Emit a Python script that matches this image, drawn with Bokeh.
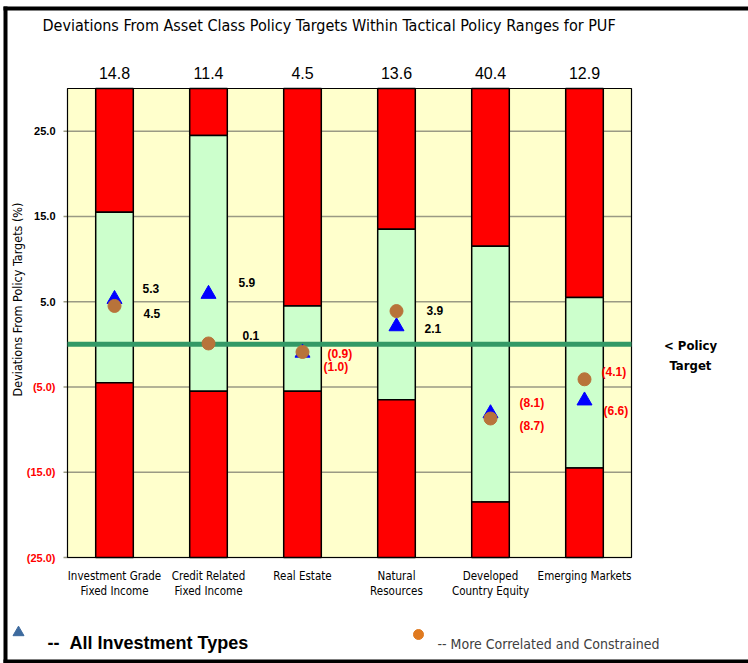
from bokeh.plotting import figure
from bokeh.models import Range1d
from bokeh.core.properties import value
from bokeh.embed import file_html
from bokeh.resources import INLINE

# ---------------- data ----------------
categories = ["Investment Grade\nFixed Income", "Credit Related\nFixed Income", "Real Estate",
              "Natural\nResources", "Developed\nCountry Equity", "Emerging Markets"]
header_values = [14.8, 11.4, 4.5, 13.6, 40.4, 12.9]
range_low = [-4.5, -5.5, -5.5, -6.5, -18.5, -14.5]
range_high = [15.5, 24.5, 4.5, 13.5, 11.5, 5.5]
all_types = [5.3, 5.9, -1.0, 2.1, -8.1, -6.6]
correlated = [4.5, 0.1, -0.9, 3.9, -8.7, -4.1]
y_ticks = [25, 15, 5, -5, -15, -25]
y_min, y_max = -25, 30
policy_target = 0
title = "Deviations From Asset Class Policy Targets Within Tactical Policy Ranges for PUF"
y_title = "Deviations From Policy Targets (%)"
legend_dash = "--"
legend_all = "All Investment Types"
legend_corr = "-- More Correlated and Constrained"
policy_label = ["< Policy", "Target"]

# ---------------- layout (pixels) ----------------
W, H = 748, 663
F_LEFT, F_RIGHT, F_TOP, F_BOTTOM = 67, 631, 88, 557   # plot area inside the canvas
tri_dx = [28, 30, 21, 28, 29, 19]
tri_dy = [-11, -12, 14, 2, -10, 10]
cir_dx = [29, 34, 25, 30, 29, 17]
cir_dy = [8, -8, 2, -1, 7, -7]

NARROW = "DejaVu Sans Condensed"
SANS = "Liberation Sans"
RED = "#FF0000"
GRID = "#9a9a84"

n = len(categories)
xs = [i + 0.5 for i in range(n)]
xscale = (F_RIGHT - F_LEFT) / n
yscale = (F_BOTTOM - F_TOP) / (y_max - y_min)


def X(px):  # canvas pixel -> data x
    return (px - F_LEFT) / xscale


def Y(py):  # canvas pixel -> data y
    return y_max - (py - F_TOP) / yscale


def fmt(v):
    return f"{v:.1f}" if v >= 0 else f"({abs(v):.1f})"


def col(v):
    return "black" if v >= 0 else RED


p = figure(width=W, height=H, title=None,
           x_range=Range1d(X(0), X(W)), y_range=Range1d(Y(H), Y(0)),
           output_backend="svg", toolbar_location=None,
           x_axis_location=None, y_axis_location=None,
           min_border=0)
p.grid.visible = False
p.outline_line_color = None
p.background_fill_color = "white"
p.border_fill_color = "white"

# plot area background
p.quad(left=[0], right=[n], bottom=[y_min], top=[y_max], fill_color="#FFFFCC", line_color=None)

# horizontal grid lines and tick marks
p.segment(x0=[0] * len(y_ticks), x1=[n] * len(y_ticks), y0=y_ticks, y1=y_ticks,
          line_color=GRID, line_width=1.5)
p.segment(x0=[-4 / xscale] * len(y_ticks), x1=[0] * len(y_ticks), y0=y_ticks, y1=y_ticks,
          line_color=GRID, line_width=1.5)

# tactical range bars
p.vbar(x=xs, width=0.4, bottom=range_high, top=[y_max] * n,
       fill_color=RED, line_color="black", line_width=1.5)
p.vbar(x=xs, width=0.4, bottom=range_low, top=range_high,
       fill_color="#CCFFCC", line_color="black", line_width=1.5)
p.vbar(x=xs, width=0.4, bottom=[y_min] * n, top=range_low,
       fill_color=RED, line_color="black", line_width=1.5)

# plot area outline
p.quad(left=[0], right=[n], bottom=[y_min], top=[y_max], fill_color=None,
       line_color="black", line_width=1.2)

# policy target line
p.segment(x0=[0], x1=[n], y0=[policy_target], y1=[policy_target],
          line_color="#339966", line_width=5)

# markers
p.scatter(xs, all_types, marker="triangle", size=15, fill_color="#0000FF", line_color="#0000FF")
p.scatter(xs, correlated, marker="circle", size=13, fill_color="#B8733A", line_color="#B8733A")

# value labels
p.text(x=xs + xs, y=all_types + correlated,
       text=[fmt(v) for v in all_types] + [fmt(v) for v in correlated],
       text_color=[col(v) for v in all_types] + [col(v) for v in correlated],
       x_offset=tri_dx + cir_dx, y_offset=tri_dy + cir_dy,
       text_font=value(SANS), text_font_style="bold", text_font_size="12px",
       text_align="left", text_baseline="middle")

# y tick labels
p.text(x=[0] * len(y_ticks), y=y_ticks, text=[fmt(t) for t in y_ticks],
       text_color=[col(t) for t in y_ticks], x_offset=-12,
       text_font=value(SANS), text_font_style="bold", text_font_size="11px",
       text_align="right", text_baseline="middle")

# header values above each bar
p.text(x=xs, y=[y_max] * n, text=[f"{v:.1f}" for v in header_values], y_offset=-16,
       text_font=value(SANS), text_font_size="16px", text_color="black",
       text_align="center", text_baseline="middle")

# category labels (one or two lines)
line1 = [c.split("\n")[0] for c in categories]
line2 = [c.split("\n")[1] if "\n" in c else "" for c in categories]
p.text(x=xs, y=[y_min] * n, text=line1, y_offset=18,
       text_font=value(NARROW), text_font_size="11.5px", text_color="black",
       text_align="center", text_baseline="middle")
p.text(x=xs, y=[y_min] * n, text=line2, y_offset=33,
       text_font=value(NARROW), text_font_size="11.5px", text_color="black",
       text_align="center", text_baseline="middle")

# title
p.text(x=[X(42)], y=[Y(25)], text=[title], text_font=value(NARROW), text_font_size="16px",
       text_color="black", text_align="left", text_baseline="middle")

# y axis title
p.text(x=[X(17)], y=[Y(299)], text=[y_title], angle=1.5708, text_font=value(NARROW),
       text_font_size="12.5px", text_color="black", text_align="center", text_baseline="middle")

# policy target note
p.text(x=[X(690)] * 2, y=[Y(345), Y(365)], text=policy_label, text_font=value(NARROW),
       text_font_size="13px", text_font_style="bold", text_color="black",
       text_align="center", text_baseline="middle")

# legend
p.scatter([X(18)], [Y(632)], marker="triangle", size=11, fill_color="#3D6A9E", line_color="#3D6A9E")
p.text(x=[X(47), X(69)], y=[Y(642), Y(642)], text=[legend_dash, legend_all],
       text_font=value(SANS), text_font_size="18px",
       text_font_style="bold", text_color="black", text_align="left", text_baseline="middle")
p.scatter([X(418)], [Y(634)], marker="circle", size=10, fill_color="#E07A1F", line_color="#E07A1F")
p.text(x=[X(437)], y=[Y(643)], text=[legend_corr], text_font=value(NARROW), text_font_size="14px",
       text_color="#404040", text_align="left", text_baseline="middle")

# outer black frame (left, top, bottom)
p.quad(left=[X(3), X(3), X(3)], right=[X(7), X(W), X(W)],
       top=[Y(6), Y(6), Y(659)], bottom=[Y(H), Y(10), Y(H)],
       fill_color="black", line_color=None)

open("out.html", "w").write(file_html(p, INLINE))
